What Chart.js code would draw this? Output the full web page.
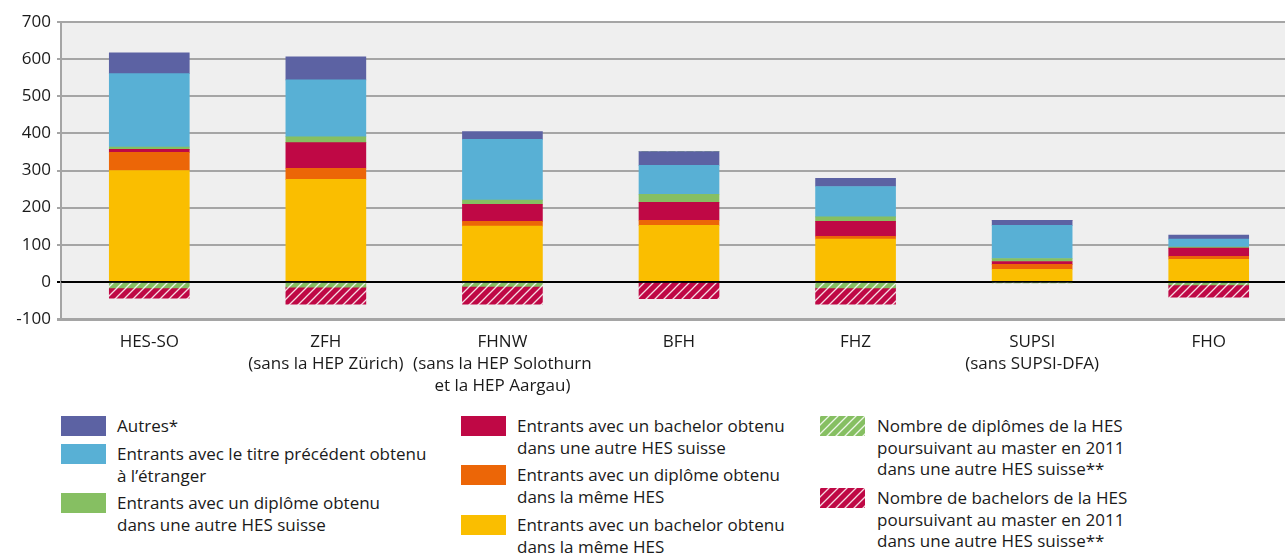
<!DOCTYPE html>
<html>
<head>
<meta charset="utf-8">
<script src="https://cdn.jsdelivr.net/npm/chart.js@4.4.1/dist/chart.umd.min.js"></script>
<style>
  html, body { margin:0; padding:0; background:#fff; overflow:hidden; width:1285px; height:554px; }
  #wrap { position:relative; width:1285px; height:554px; overflow:hidden; font-family:"Open Sans", sans-serif; color:#1a1a1a; }
  #c { position:absolute; left:0; top:0; }
  .lg { position:absolute; font-size:17px; line-height:21.5px; white-space:nowrap; }
  .sw { position:absolute; width:45px; height:20px; }
</style>
</head>
<body>
<div id="wrap">
  <canvas id="c" width="1297" height="400"></canvas>
  <div id="legend"></div>
</div>
<script>
// ---- data ----
const categories = [
  ['HES-SO'],
  ['ZFH', '(sans la HEP Zürich)'],
  ['FHNW', '(sans la HEP Solothurn', 'et la HEP Aargau)'],
  ['BFH'],
  ['FHZ'],
  ['SUPSI', '(sans SUPSI-DFA)'],
  ['FHO']
];
const yTicks = [-100, 0, 100, 200, 300, 400, 500, 600, 700];
const bachelorMemeHES     = [300, 276, 150, 152, 115, 34, 61];
const diplomeMemeHES      = [49, 30, 13, 14, 8, 13, 8];
const bachelorAutreHES    = [8, 69, 46, 48, 40, 8, 22];
const diplomeAutreHES     = [6, 16, 11, 22, 12, 8, 3];
const titreEtranger       = [198, 153, 164, 78, 82, 89, 21];
const autres              = [56, 62, 21, 37, 22, 14, 11];
const diplomesPoursuivant = [-16, -14, -12, 0, -16, -1, -8];
const bachelorsPoursuivant= [-28, -46, -48, -45, -44, 0, -33];

const labelsText = {
  autres: 'Autres*',
  etranger: 'Entrants avec le titre précédent obtenu\nà l’étranger',
  diplAutre: 'Entrants avec un diplôme obtenu\ndans une autre HES suisse',
  bachAutre: 'Entrants avec un bachelor obtenu\ndans une autre HES suisse',
  diplMeme: 'Entrants avec un diplôme obtenu\ndans la même HES',
  bachMeme: 'Entrants avec un bachelor obtenu\ndans la même HES',
  diplPours: 'Nombre de diplômes de la HES\npoursuivant au master en 2011\ndans une autre HES suisse**',
  bachPours: 'Nombre de bachelors de la HES\npoursuivant au master en 2011\ndans une autre HES suisse**'
};

const C = {
  purple:'#5c62a3', blue:'#58b0d5', green:'#86bf62', crimson:'#bf0845', orange:'#ec6607', yellow:'#fabe00'
};

function hatch(color){
  const s = 9;
  const cv = document.createElement('canvas');
  cv.width = s; cv.height = s;
  const x = cv.getContext('2d');
  x.fillStyle = color; x.fillRect(0,0,s,s);
  x.strokeStyle = 'rgba(255,255,255,0.85)';
  x.lineWidth = 1.3;
  x.beginPath();
  x.moveTo(0,s); x.lineTo(s,0);
  x.moveTo(-1,1); x.lineTo(1,-1);
  x.moveTo(s-1,s+1); x.lineTo(s+1,s-1);
  x.stroke();
  return x.createPattern(cv,'repeat');
}
const ctx0 = document.getElementById('c').getContext('2d');
const greenHatch = hatch(C.green);
const redHatch = hatch(C.crimson);

const datasets = [
  {key:'bachMeme', label:labelsText.bachMeme, data:bachelorMemeHES, backgroundColor:C.yellow},
  {key:'diplMeme', label:labelsText.diplMeme, data:diplomeMemeHES, backgroundColor:C.orange},
  {key:'bachAutre', label:labelsText.bachAutre, data:bachelorAutreHES, backgroundColor:C.crimson},
  {key:'diplAutre', label:labelsText.diplAutre, data:diplomeAutreHES, backgroundColor:C.green},
  {key:'etranger', label:labelsText.etranger, data:titreEtranger, backgroundColor:C.blue},
  {key:'autres', label:labelsText.autres, data:autres, backgroundColor:C.purple},
  {key:'diplPours', label:labelsText.diplPours, data:diplomesPoursuivant, backgroundColor:greenHatch},
  {key:'bachPours', label:labelsText.bachPours, data:bachelorsPoursuivant, backgroundColor:redHatch}
].map(d => Object.assign(d, {barThickness:80, borderWidth:0, stack:'s'}));

const bgPlugin = {
  id:'bg',
  beforeDraw(chart){
    const {ctx, chartArea:a} = chart;
    ctx.save();
    ctx.fillStyle = '#efefef';
    ctx.fillRect(a.left, a.top, a.right-a.left, a.bottom-a.top);
    ctx.restore();
  },
  afterDatasetsDraw(chart){
    const {ctx, chartArea:a, scales} = chart;
    const y = scales.y.getPixelForValue(0);
    ctx.save();
    ctx.strokeStyle = '#000';
    ctx.lineWidth = 1.6;
    ctx.beginPath(); ctx.moveTo(a.left, y); ctx.lineTo(a.right, y); ctx.stroke();
    ctx.restore();
  }
};

new Chart(ctx0, {
  type:'bar',
  data:{ labels:categories, datasets },
  plugins:[bgPlugin],
  options:{
    responsive:false, animation:false, devicePixelRatio:1,
    layout:{ padding:{ top:22, right:0, left:0, bottom:0 } },
    plugins:{ legend:{display:false}, tooltip:{enabled:false} },
    scales:{
      x:{
        stacked:true,
        grid:{display:false, drawTicks:false},
        border:{display:false},
        ticks:{ font:{family:'Open Sans', size:17, lineHeight:1.3}, color:'#1a1a1a', padding:12, maxRotation:0, autoSkip:false },
        afterFit(s){ s.height = 400 - 319; }
      },
      y:{
        stacked:true, min:-100, max:700,
        afterBuildTicks(s){ s.ticks = yTicks.map(v => ({value:v})); },
        grid:{
          color:(c)=> c.tick && c.tick.value === 0 ? '#000' : '#a5a5a5',
          lineWidth:(c)=> c.tick && c.tick.value === -100 ? 3 : 2,
          tickLength:4, drawTicks:true
        },
        border:{display:true, color:'#a5a5a5', width:2},
        ticks:{ font:{family:'Open Sans', size:17}, color:'#1a1a1a', padding:6 },
        afterFit(s){ s.width = 61; }
      }
    }
  }
});

// ---- HTML legend ----
const legendPos = {
  autres:   {sx:61,  tx:117, y:415},
  etranger: {sx:61,  tx:117, y:443},
  diplAutre:{sx:61,  tx:117, y:492},
  bachAutre:{sx:461, tx:517, y:415},
  diplMeme: {sx:461, tx:517, y:464},
  bachMeme: {sx:461, tx:517, y:514},
  diplPours:{sx:820, tx:877, y:415},
  bachPours:{sx:820, tx:877, y:487}
};
const lg = document.getElementById('legend');
datasets.forEach(d => {
  const p = legendPos[d.key];
  const sw = document.createElement('canvas');
  sw.className = 'sw'; sw.width = 45; sw.height = 20;
  sw.style.left = p.sx + 'px'; sw.style.top = (p.y + 1) + 'px';
  const sc = sw.getContext('2d');
  sc.fillStyle = d.backgroundColor; sc.fillRect(0,0,45,20);
  lg.appendChild(sw);
  const t = document.createElement('div');
  t.className = 'lg';
  t.style.left = p.tx + 'px'; t.style.top = p.y + 'px';
  d.label.split('\n').forEach((line,i) => {
    if (i) t.appendChild(document.createElement('br'));
    t.appendChild(document.createTextNode(line));
  });
  lg.appendChild(t);
});
</script>
</body>
</html>
